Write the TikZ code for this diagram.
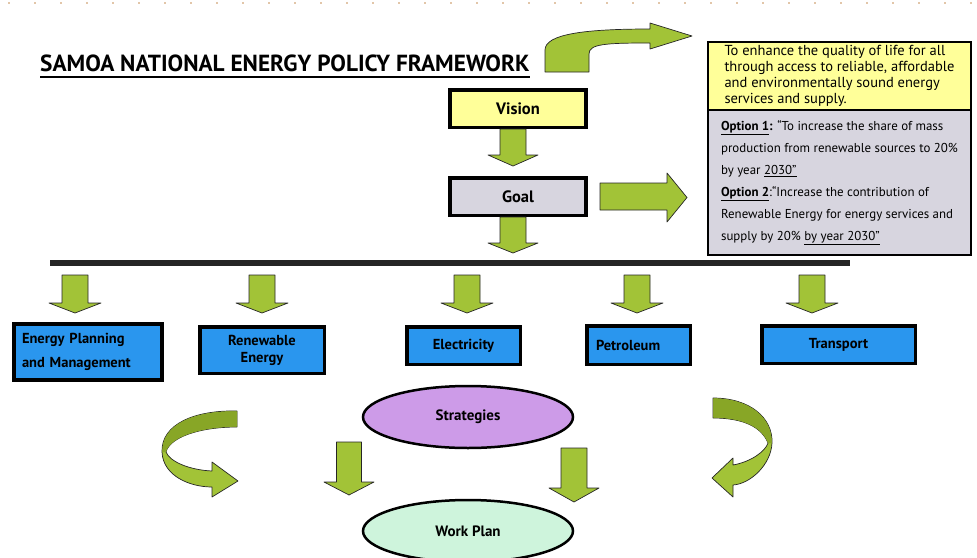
\documentclass[tikz,border=0pt]{standalone}
\usepackage{fontspec}
\setmainfont{PT Sans}
\usetikzlibrary{positioning, shapes.geometric, calc}

\definecolor{arrgreen}{RGB}{162,195,55}
\definecolor{arrdark}{RGB}{136,166,38}
\definecolor{visyellow}{RGB}{255,255,153}
\definecolor{goalgray}{RGB}{215,213,223}
\definecolor{secblue}{RGB}{42,150,238}
\definecolor{stratviolet}{RGB}{205,155,232}
\definecolor{planmint}{RGB}{206,244,220}

% block arrow pointing down: x, top y, head y, tip y, half shaft, half head
\newcommand{\blkdown}[6]{%
  \draw[garrow] ({#1-#5},#2) -- ({#1+#5},#2) -- ({#1+#5},#3) -- ({#1+#6},#3)
    -- (#1,#4) -- ({#1-#6},#3) -- ({#1-#5},#3) -- cycle;}

\begin{document}
\begin{tikzpicture}[x=1pt, y=-1pt,
    box/.style={draw, line width=3.5pt, inner sep=2pt, font=\bfseries\fontsize{16.5}{18}\selectfont},
    sector/.style={box, fill=secblue, font=\bfseries\fontsize{14.5}{17}\selectfont},
    infobox/.style={draw, line width=1.5pt, minimum width=263pt, align=left, inner sep=0pt},
    ell/.style={ellipse, draw, line width=2.5pt, inner sep=0pt, minimum width=210pt, minimum height=62pt, font=\bfseries\fontsize{15}{17}\selectfont},
    garrow/.style={fill=arrgreen, draw=black!85, line width=0.7pt, line join=round},
  ]
  \useasboundingbox (0,0) rectangle (977,557);
  \clip (0,0) rectangle (977,557);

  % scan marks along the top edge
  \draw[dash pattern=on 2pt off 24pt, line width=1.2pt, brown!45] (8,3) -- (977,3);

  % Title:
  \node[anchor=base west, inner sep=0pt, font=\bfseries\fontsize{23.3}{25}\selectfont] (title) at (40,71) {SAMOA NATIONAL ENERGY POLICY FRAMEWORK};
  \draw[line width=2pt] ($(title.base west)+(0,6)$) -- ($(title.base east)+(0,6)$);

  % Vision and goal:
  \node[box, fill=visyellow, minimum width=136pt, minimum height=37.5pt] (vision) at (518,108.5) {Vision};
  \node[box, fill=goalgray, minimum width=136pt, minimum height=37.5pt] (goal) at (518,196.5) {Goal};

  % Statement box on the right:
  \node[infobox, fill=visyellow, minimum height=68pt, font=\fontsize{14.5}{16}\selectfont] (aim) at (839.5,76)
    {To enhance the quality of life for all\\through access to reliable, affordable\\and environmentally sound energy\\services and supply.};
  \node[infobox, fill=goalgray, minimum height=145pt, font=\fontsize{12.9}{22}\selectfont] (opts) at (839.5,182.5)
    {\underline{\textbf{Option 1}}\textbf{:} “To increase the share of mass\\
     production from renewable sources to 20\%\\
     by year \underline{2030”}\\
     \underline{\textbf{Option 2}}:“Increase the contribution of\\
     Renewable Energy for energy services and\\
     supply by 20\% \underline{by year 2030”}};

  % Bent arrow from the title to the statement:
  \draw[garrow] (545,72) -- (545,50) .. controls (545,34) and (585,29) .. (650,29)
    -- (650,23) -- (692,36) -- (650,49) -- (650,43)
    .. controls (605,43) and (589,44) .. (589,54) -- (589,72) -- cycle;

  % Arrows under vision and goal:
  \blkdown{513}{129}{155}{166}{13}{25}
  \blkdown{513}{217}{243}{253}{13}{25}
  \draw[garrow] (600,183) -- (667,183) -- (667,173) -- (687,197.5) -- (667,222) -- (667,210) -- (600,210) -- cycle;

  % Bar and the five sectors:
  \coordinate (barL) at (50,263);
  \coordinate (barR) at (850,263);
  \draw[line width=6pt, black!85] (barL) -- (barR);

  \node[sector, minimum width=148pt, minimum height=56pt, text width=132pt, align=left, font=\bfseries\fontsize{14.5}{24}\selectfont] (plan) at (88,352) {Energy Planning\\and Management};
  \node[sector, minimum width=124.5pt, minimum height=46.5pt, align=center] (renew) at (262,350) {Renewable\\Energy};
  \node[sector, minimum width=113.5pt, minimum height=37.5pt] (elec) at (463.5,345.5) {Electricity};
  \node[sector, minimum width=103.5pt, minimum height=38.5pt, text width=85pt, align=left] (petro) at (638.5,345) {Petroleum};
  \node[sector, minimum width=153.5pt, minimum height=37.5pt] (trans) at (838.5,344.5) {Transport};

  \foreach \x in {75, 262, 467, 637, 812}{
    \blkdown{\x}{275}{303}{313}{13}{26}
  }

  % Strategies and work plan:
  \node[ell, fill=stratviolet] (strat) at (468,417) {Strategies};
  \node[ell, fill=planmint] (work) at (468,531) {Work Plan};

  \blkdown{349}{442}{482}{495}{12.5}{25}
  \blkdown{574}{448}{488}{502}{13}{25}

  % Curved arrows on the left and right:
  \draw[garrow] (237,411) .. controls (195,410) and (161,424) .. (162,452)
    .. controls (163,476) and (190,487) .. (212,487) -- (212,497) -- (238,481) -- (212,462) -- (212,471)
    .. controls (190,470) and (170,462) .. (166,452)
    .. controls (170,437) and (200,427) .. (237,427) -- cycle;
  \fill[arrdark] (237,411.4) .. controls (195,410.4) and (161.4,424) .. (162.4,452)
    -- (166,452) .. controls (170,437) and (200,427) .. (237,426.6) -- cycle;

  \draw[garrow] (713,398) .. controls (750,398) and (773,418) .. (772,443)
    .. controls (771,465) and (750,484) .. (733,485) -- (733,497) -- (712,478) -- (733,458) -- (733,465)
    .. controls (750,462) and (765,452) .. (768,443)
    .. controls (762,428) and (745,418) .. (713,418) -- cycle;
  \fill[arrdark] (713.4,398.4) .. controls (750,398.4) and (772.6,418) .. (771.6,443)
    -- (768,443) .. controls (762,428) and (745,418) .. (713.4,417.6) -- cycle;
\end{tikzpicture}
\end{document}
